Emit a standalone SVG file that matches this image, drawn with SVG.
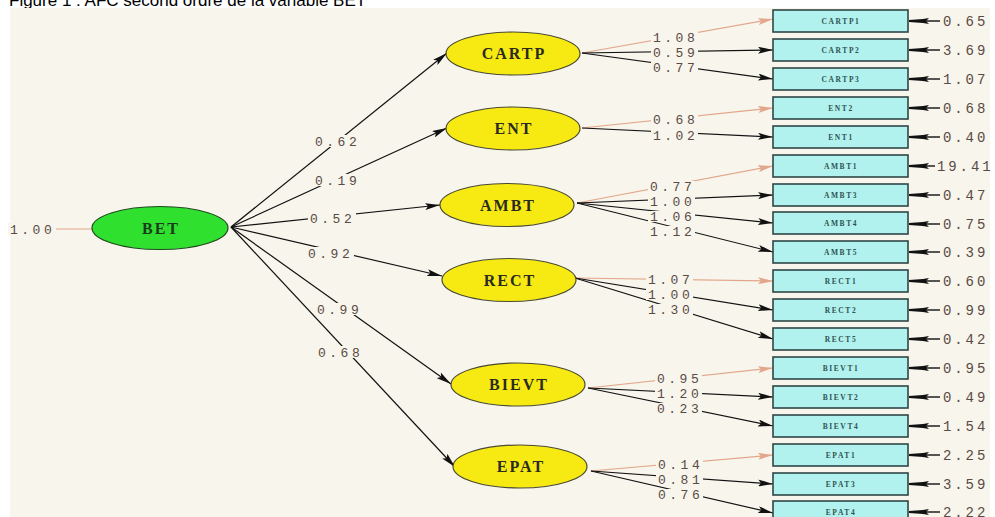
<svg xmlns="http://www.w3.org/2000/svg" width="995" height="517" viewBox="0 0 995 517">
<defs>
<style>
.cap{font-family:"Liberation Sans",Arial,sans-serif;font-size:17px;fill:#000}
.num{font-family:"Liberation Mono","Courier New",monospace;font-size:13px;letter-spacing:3.5px;fill:#5a4a44}
.res{font-family:"Liberation Mono","Courier New",monospace;font-size:14px;letter-spacing:2.9px;fill:#5a4a44}
.bg{fill:#f7f5ec}
.lat{fill:#f7ea12;stroke:#4a4a30;stroke-width:1.2}
.latt{font-family:"Liberation Serif","Times New Roman",serif;font-weight:bold;font-size:16px;letter-spacing:2px;fill:#2a2a20;text-anchor:middle}
.box{fill:#b2f2ee;stroke:#2e4646;stroke-width:1.6}
.boxt{font-family:"Liberation Serif","Times New Roman",serif;font-weight:bold;font-size:7.5px;letter-spacing:1.6px;fill:#2e5252;text-anchor:middle}
.k{stroke:#111;stroke-width:1.2;fill:none}
.r{stroke:#111;stroke-width:1.4;fill:none}
.s{stroke:#e3a68a;stroke-width:1.2;fill:none}
</style>
<marker id="ak" markerUnits="userSpaceOnUse" markerWidth="15" markerHeight="7" refX="15" refY="3.5" orient="auto"><path d="M0,0 L15,3.5 L0,7 L3,3.5 z" fill="#111"/></marker>
<marker id="as" markerUnits="userSpaceOnUse" markerWidth="15" markerHeight="7" refX="15" refY="3.5" orient="auto"><path d="M0,0 L15,3.5 L0,7 L3,3.5 z" fill="#e3a68a"/></marker>
<marker id="ar" markerUnits="userSpaceOnUse" markerWidth="20" markerHeight="7" refX="20" refY="3.5" orient="auto"><path d="M0,0.5 L6,1.5 L20,2.5 L20,4.5 L6,5.5 L0,6.5 L3,3.5 z" fill="#111"/></marker>
</defs>
<text class="cap" x="9" y="6">Figure 1 : AFC second ordre de la variable BET</text>
<rect x="10" y="8" width="980" height="509" fill="#f7f5ec"/>

<g id="connectors">
<line class="s" x1="55" y1="229" x2="92" y2="229"/>
<line class="k" x1="231" y1="227" x2="447" y2="53" marker-end="url(#ak)"/>
<line class="k" x1="231" y1="227" x2="447" y2="128" marker-end="url(#ak)"/>
<line class="k" x1="231" y1="227" x2="440" y2="205" marker-end="url(#ak)"/>
<line class="k" x1="231" y1="227" x2="442" y2="276" marker-end="url(#ak)"/>
<line class="k" x1="231" y1="227" x2="451" y2="384" marker-end="url(#ak)"/>
<line class="k" x1="231" y1="227" x2="455" y2="467" marker-end="url(#ak)"/>

<line class="s" x1="582" y1="53" x2="773" y2="19" marker-end="url(#as)"/>
<line class="k" x1="582" y1="53" x2="773" y2="50" marker-end="url(#ak)"/>
<line class="k" x1="582" y1="53" x2="773" y2="79" marker-end="url(#ak)"/>
<line class="s" x1="582" y1="128" x2="773" y2="108" marker-end="url(#as)"/>
<line class="k" x1="582" y1="128" x2="773" y2="137" marker-end="url(#ak)"/>
<line class="s" x1="577" y1="203" x2="773" y2="166" marker-end="url(#as)"/>
<line class="k" x1="577" y1="203" x2="773" y2="195" marker-end="url(#ak)"/>
<line class="k" x1="577" y1="203" x2="773" y2="223" marker-end="url(#ak)"/>
<line class="k" x1="577" y1="203" x2="773" y2="252" marker-end="url(#ak)"/>
<line class="s" x1="575" y1="278" x2="773" y2="281" marker-end="url(#as)"/>
<line class="k" x1="575" y1="278" x2="773" y2="310" marker-end="url(#ak)"/>
<line class="k" x1="575" y1="278" x2="773" y2="339" marker-end="url(#ak)"/>
<line class="s" x1="588" y1="388" x2="773" y2="368" marker-end="url(#as)"/>
<line class="k" x1="588" y1="388" x2="773" y2="397" marker-end="url(#ak)"/>
<line class="k" x1="588" y1="388" x2="773" y2="426" marker-end="url(#ak)"/>
<line class="s" x1="591" y1="471" x2="773" y2="455" marker-end="url(#as)"/>
<line class="k" x1="591" y1="471" x2="773" y2="484" marker-end="url(#ak)"/>
<line class="k" x1="591" y1="471" x2="773" y2="513" marker-end="url(#ak)"/>

<g>
<line class="r" x1="940" y1="21" x2="909" y2="21" marker-end="url(#ar)"/>
<line class="r" x1="940" y1="50" x2="909" y2="50" marker-end="url(#ar)"/>
<line class="r" x1="940" y1="79" x2="909" y2="79" marker-end="url(#ar)"/>
<line class="r" x1="940" y1="108" x2="909" y2="108" marker-end="url(#ar)"/>
<line class="r" x1="940" y1="137" x2="909" y2="137" marker-end="url(#ar)"/>
<line class="r" x1="935" y1="166" x2="909" y2="166" marker-end="url(#ar)"/>
<line class="r" x1="940" y1="195" x2="909" y2="195" marker-end="url(#ar)"/>
<line class="r" x1="940" y1="224" x2="909" y2="224" marker-end="url(#ar)"/>
<line class="r" x1="940" y1="252" x2="909" y2="252" marker-end="url(#ar)"/>
<line class="r" x1="940" y1="281" x2="909" y2="281" marker-end="url(#ar)"/>
<line class="r" x1="940" y1="310" x2="909" y2="310" marker-end="url(#ar)"/>
<line class="r" x1="940" y1="339" x2="909" y2="339" marker-end="url(#ar)"/>
<line class="r" x1="940" y1="368" x2="909" y2="368" marker-end="url(#ar)"/>
<line class="r" x1="940" y1="397" x2="909" y2="397" marker-end="url(#ar)"/>
<line class="r" x1="940" y1="426" x2="909" y2="426" marker-end="url(#ar)"/>
<line class="r" x1="940" y1="455" x2="909" y2="455" marker-end="url(#ar)"/>
<line class="r" x1="940" y1="484" x2="909" y2="484" marker-end="url(#ar)"/>
<line class="r" x1="940" y1="512" x2="909" y2="512" marker-end="url(#ar)"/>
</g>

<g>
<rect class="bg" x="8" y="223" width="48" height="12"/><text class="num" x="10" y="234">1.00</text>
<rect class="bg" x="313" y="135" width="48" height="12"/><text class="num" x="315" y="146">0.62</text>
<rect class="bg" x="313" y="174" width="48" height="12"/><text class="num" x="315" y="185">0.19</text>
<rect class="bg" x="308" y="212" width="48" height="12"/><text class="num" x="310" y="223">0.52</text>
<rect class="bg" x="306" y="247" width="48" height="12"/><text class="num" x="308" y="258">0.92</text>
<rect class="bg" x="315" y="303" width="48" height="12"/><text class="num" x="317" y="314">0.99</text>
<rect class="bg" x="316" y="346" width="48" height="12"/><text class="num" x="318" y="357">0.68</text>

<rect class="bg" x="651" y="32" width="47" height="11"/><text class="num" x="653" y="42">1.08</text>
<rect class="bg" x="651" y="47" width="47" height="11"/><text class="num" x="653" y="57">0.59</text>
<rect class="bg" x="651" y="62" width="47" height="11"/><text class="num" x="653" y="72">0.77</text>
<rect class="bg" x="651" y="114" width="47" height="11"/><text class="num" x="653" y="124">0.68</text>
<rect class="bg" x="651" y="130" width="47" height="11"/><text class="num" x="653" y="140">1.02</text>
<rect class="bg" x="648" y="181" width="47" height="11"/><text class="num" x="650" y="191">0.77</text>
<rect class="bg" x="648" y="196" width="47" height="11"/><text class="num" x="650" y="206">1.00</text>
<rect class="bg" x="648" y="211" width="47" height="11"/><text class="num" x="650" y="221">1.06</text>
<rect class="bg" x="648" y="226" width="47" height="11"/><text class="num" x="650" y="236">1.12</text>
<rect class="bg" x="646" y="274" width="47" height="11"/><text class="num" x="648" y="284">1.07</text>
<rect class="bg" x="646" y="289" width="47" height="11"/><text class="num" x="648" y="299">1.00</text>
<rect class="bg" x="646" y="304" width="47" height="11"/><text class="num" x="648" y="314">1.30</text>
<rect class="bg" x="655" y="373" width="47" height="11"/><text class="num" x="657" y="383">0.95</text>
<rect class="bg" x="655" y="388" width="47" height="11"/><text class="num" x="657" y="398">1.20</text>
<rect class="bg" x="655" y="403" width="47" height="11"/><text class="num" x="657" y="413">0.23</text>
<rect class="bg" x="656" y="459" width="47" height="11"/><text class="num" x="658" y="469">0.14</text>
<rect class="bg" x="656" y="474" width="47" height="11"/><text class="num" x="658" y="484">0.81</text>
<rect class="bg" x="656" y="489" width="47" height="11"/><text class="num" x="658" y="499">0.76</text>
</g>
</g>

<g id="BET"><ellipse cx="160" cy="228" rx="68" ry="21.5" fill="#2fe02f" stroke="#1d4a1d" stroke-width="1.2"/><text class="latt" x="161" y="234" style="fill:#1d3a1d">BET</text></g>
<g id="CARTP"><ellipse class="lat" cx="513" cy="53.5" rx="67" ry="21.5"/><text class="latt" x="514" y="59">CARTP</text></g>
<g id="ENT"><ellipse class="lat" cx="513" cy="128.5" rx="67" ry="21.5"/><text class="latt" x="514" y="134">ENT</text></g>
<g id="AMBT"><ellipse class="lat" cx="507" cy="205" rx="67" ry="21.5"/><text class="latt" x="508" y="211">AMBT</text></g>
<g id="RECT"><ellipse class="lat" cx="509" cy="280" rx="67" ry="21.5"/><text class="latt" x="510" y="286">RECT</text></g>
<g id="BIEVT"><ellipse class="lat" cx="518" cy="384.5" rx="67" ry="21.5"/><text class="latt" x="519" y="390">BIEVT</text></g>
<g id="EPAT"><ellipse class="lat" cx="520" cy="466.5" rx="67" ry="21.5"/><text class="latt" x="521" y="472">EPAT</text></g>

<g id="CARTP1"><rect class="box" x="773" y="10" width="135" height="22"/><text class="boxt" x="841" y="24">CARTP1</text><text class="res" x="943" y="26">0.65</text></g>
<g id="CARTP2"><rect class="box" x="773" y="39" width="135" height="22"/><text class="boxt" x="841" y="53">CARTP2</text><text class="res" x="943" y="55">3.69</text></g>
<g id="CARTP3"><rect class="box" x="773" y="68" width="135" height="22"/><text class="boxt" x="841" y="82">CARTP3</text><text class="res" x="943" y="84">1.07</text></g>
<g id="ENT2"><rect class="box" x="773" y="97" width="135" height="22"/><text class="boxt" x="841" y="111">ENT2</text><text class="res" x="943" y="113">0.68</text></g>
<g id="ENT1"><rect class="box" x="773" y="126" width="135" height="22"/><text class="boxt" x="841" y="140">ENT1</text><text class="res" x="943" y="142">0.40</text></g>
<g id="AMBT1"><rect class="box" x="773" y="155" width="135" height="22"/><text class="boxt" x="841" y="169">AMBT1</text><text class="res" x="937" y="171">19.41</text></g>
<g id="AMBT3"><rect class="box" x="773" y="184" width="135" height="22"/><text class="boxt" x="841" y="198">AMBT3</text><text class="res" x="943" y="200">0.47</text></g>
<g id="AMBT4"><rect class="box" x="773" y="212" width="135" height="22"/><text class="boxt" x="841" y="226">AMBT4</text><text class="res" x="943" y="229">0.75</text></g>
<g id="AMBT5"><rect class="box" x="773" y="241" width="135" height="22"/><text class="boxt" x="841" y="255">AMBT5</text><text class="res" x="943" y="257">0.39</text></g>
<g id="RECT1"><rect class="box" x="773" y="270" width="135" height="22"/><text class="boxt" x="841" y="284">RECT1</text><text class="res" x="943" y="286">0.60</text></g>
<g id="RECT2"><rect class="box" x="773" y="299" width="135" height="22"/><text class="boxt" x="841" y="313">RECT2</text><text class="res" x="943" y="315">0.99</text></g>
<g id="RECT5"><rect class="box" x="773" y="328" width="135" height="22"/><text class="boxt" x="841" y="342">RECT5</text><text class="res" x="943" y="344">0.42</text></g>
<g id="BIEVT1"><rect class="box" x="773" y="357" width="135" height="22"/><text class="boxt" x="841" y="371">BIEVT1</text><text class="res" x="943" y="373">0.95</text></g>
<g id="BIEVT2"><rect class="box" x="773" y="386" width="135" height="22"/><text class="boxt" x="841" y="400">BIEVT2</text><text class="res" x="943" y="402">0.49</text></g>
<g id="BIEVT4"><rect class="box" x="773" y="415" width="135" height="22"/><text class="boxt" x="841" y="429">BIEVT4</text><text class="res" x="943" y="431">1.54</text></g>
<g id="EPAT1"><rect class="box" x="773" y="444" width="135" height="22"/><text class="boxt" x="841" y="458">EPAT1</text><text class="res" x="943" y="460">2.25</text></g>
<g id="EPAT3"><rect class="box" x="773" y="473" width="135" height="22"/><text class="boxt" x="841" y="487">EPAT3</text><text class="res" x="943" y="489">3.59</text></g>
<g id="EPAT4"><rect class="box" x="773" y="501" width="135" height="22"/><text class="boxt" x="841" y="515">EPAT4</text><text class="res" x="943" y="517">2.22</text></g>
</svg>
